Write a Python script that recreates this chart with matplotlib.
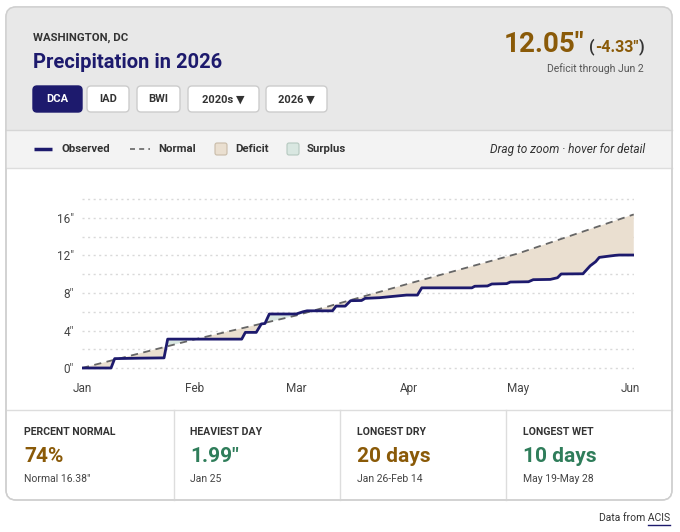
import numpy as np
import matplotlib
matplotlib.use("Agg")
import matplotlib.pyplot as plt
from matplotlib.patches import FancyBboxPatch, Rectangle

plt.rcParams['font.family'] = ['Roboto', 'DejaVu Sans']

# cumulative observed precipitation, day of year (Jan 1 = 0) -> inches
obs_days = [0, 8, 9, 16, 22.6, 23.6, 44, 45, 48, 49.4, 50.4, 51.6, 59, 60.9, 62, 69, 70, 72.5, 74,
            77, 78, 82, 89.4, 92.4, 93.6, 107.4, 108.2, 111.7, 112.9, 117, 118, 123, 124.3,
            129, 131, 132, 138, 140, 141.5, 142.5, 145.5, 147, 148, 152]
obs_values = [0, 0, 1.0, 1.05, 1.08, 3.08, 3.08, 3.8, 3.8, 4.7, 4.75, 5.76, 5.76, 6.0, 6.1,
              6.1, 6.6, 6.6, 7.18, 7.2, 7.43, 7.5, 7.78, 7.78, 8.55, 8.55, 8.72, 8.75, 8.96,
              9.0, 9.17, 9.2, 9.42, 9.45, 9.63, 10.03, 10.05, 10.9, 11.34, 11.8, 11.95,
              12.02, 12.05, 12.05]
# cumulative normal, read at the start of each month
normal_days = [0, 31, 59, 90, 120, 151, 152]
normal_values = [0, 3.05, 5.6, 9.0, 12.2, 16.25, 16.38]

month_days = [0, 31, 59, 90, 120, 151]
month_labels = ["Jan", "Feb", "Mar", "Apr", "May", "Jun"]
y_ticks = [0, 4, 8, 12, 16]

stat_labels = ["PERCENT NORMAL", "HEAVIEST DAY", "LONGEST DRY", "LONGEST WET"]
stat_values = ["74%", "1.99\u2033", "20 days", "10 days"]
stat_subs = ["Normal 16.38\u2033", "Jan 25", "Jan 26-Feb 14", "May 19-May 28"]

NAVY = "#1d1a6d"
BROWN = "#8a5a08"
GREEN = "#2f7d5a"
DEFICIT = "#eadfd0"
SURPLUS = "#d9e7e1"
TXT = "#333333"

W, H = 680, 532
fig = plt.figure(figsize=(W / 100, H / 100), dpi=100)
fig.patch.set_facecolor("white")

# background axes in pixel coordinates
bg = fig.add_axes([0, 0, 1, 1])
bg.set_xlim(0, W)
bg.set_ylim(H, 0)
bg.axis("off")

card = FancyBboxPatch((6, 7), 666, 493, boxstyle="round,pad=0,rounding_size=10",
                      facecolor="white", edgecolor="#cfcfcf", lw=1, zorder=1)
bg.add_patch(card)
header = Rectangle((0, 0), W, 130, facecolor="#e8e8e8", edgecolor="none", zorder=1.1)
bg.add_patch(header)
header.set_clip_path(card)
legrow = Rectangle((0, 130), W, 38, facecolor="#f3f3f3", edgecolor="none", zorder=1.1)
bg.add_patch(legrow)
legrow.set_clip_path(card)
bg.plot([6, 672], [130, 130], color="#d6d6d6", lw=1, zorder=1.2)
bg.plot([6, 672], [168, 168], color="#dddddd", lw=1, zorder=1.2)
bg.plot([6, 672], [410, 410], color="#dddddd", lw=1, zorder=1.2)
for sx in [174, 340, 506]:
    bg.plot([sx, sx], [410, 500], color="#dddddd", lw=1, zorder=1.2)
# redraw border on top
card2 = FancyBboxPatch((6, 7), 666, 493, boxstyle="round,pad=0,rounding_size=10",
                       facecolor="none", edgecolor="#cfcfcf", lw=1, zorder=1.3)
bg.add_patch(card2)

# header text
bg.text(33, 38, "WASHINGTON, DC", fontsize=8.2, fontweight="bold", color=TXT, va="center", zorder=2)
bg.text(33, 63, "Precipitation in 2026", fontsize=14.5, fontweight="bold", color=NAVY, va="center", zorder=2)

buttons = [("DCA", 33, 82), ("IAD", 87, 129), ("BWI", 137, 180),
           ("2020s \u25BC", 188, 259), ("2026 \u25BC", 266, 327)]
for i, (lab, x0, x1) in enumerate(buttons):
    active = i == 0
    bg.add_patch(FancyBboxPatch((x0, 86), x1 - x0, 26, boxstyle="round,pad=0,rounding_size=4",
                                facecolor=NAVY if active else "white",
                                edgecolor=NAVY if active else "#cccccc", lw=1, zorder=2))
    bg.text((x0 + x1) / 2, 99.5, lab, fontsize=8, fontweight="bold",
            color="white" if active else TXT, ha="center", va="center", zorder=3,
            family=['Roboto', 'DejaVu Sans'])

# big total, built right to left so pieces don't overlap
r = fig.canvas.get_renderer()
xr = 644
t = bg.text(xr, 47, ")", fontsize=11.5, fontweight="bold", color=TXT, ha="right", va="center", zorder=2)
xr -= t.get_window_extent(r).width
t = bg.text(xr, 47, "-4.33\u2033", fontsize=11.5, fontweight="bold", color=BROWN, ha="right", va="center", zorder=2)
xr -= t.get_window_extent(r).width
t = bg.text(xr, 47, "(", fontsize=11.5, fontweight="bold", color=TXT, ha="right", va="center", zorder=2)
xr -= t.get_window_extent(r).width + 5
bg.text(xr, 45, "12.05\u2033", fontsize=20, fontweight="bold", color=BROWN,
        ha="right", va="center", zorder=2)
bg.text(644, 69, "Deficit through Jun 2", fontsize=7.5, color="#555555", ha="right", va="center", zorder=2)

# legend row
ly = 149
bg.plot([34, 52], [ly, ly], color=NAVY, lw=2.5, solid_capstyle="butt", zorder=2)
bg.text(62, ly, "Observed", fontsize=8.2, fontweight="bold", color=TXT, va="center", zorder=2)
bg.plot([130, 150], [ly, ly], color="#666666", lw=1.2, dashes=(3, 2.5), zorder=2)
bg.text(158, ly, "Normal", fontsize=8.2, fontweight="bold", color=TXT, va="center", zorder=2)
bg.add_patch(FancyBboxPatch((215, 143), 12, 12, boxstyle="round,pad=0,rounding_size=2",
                            facecolor=DEFICIT, edgecolor="#c8bba8", lw=0.8, zorder=2))
bg.text(235, ly, "Deficit", fontsize=8.2, fontweight="bold", color=TXT, va="center", zorder=2)
bg.add_patch(FancyBboxPatch((287, 143), 12, 12, boxstyle="round,pad=0,rounding_size=2",
                            facecolor=SURPLUS, edgecolor="#b5c8bf", lw=0.8, zorder=2))
bg.text(307, ly, "Surplus", fontsize=8.2, fontweight="bold", color=TXT, va="center", zorder=2)
bg.text(645, ly, "Drag to zoom \u00b7 hover for detail", fontsize=8.6, style="italic",
        color=TXT, ha="right", va="center", zorder=2)

# stats row
for i in range(4):
    sx = 24 + i * 166.3
    col = BROWN if i in (0, 2) else GREEN
    bg.text(sx, 432, stat_labels[i], fontsize=7.6, fontweight="bold", color=TXT, va="center", zorder=2)
    bg.text(sx, 456, stat_values[i], fontsize=15, fontweight="bold", color=col, va="center", zorder=2)
    bg.text(sx, 479, stat_subs[i], fontsize=7.5, color="#444444", va="center", zorder=2)

bg.text(670, 518, "Data from ACIS", fontsize=7.5, color=TXT, ha="right", va="center", zorder=2)
bg.plot([648, 670], [525, 525], color=NAVY, lw=1, zorder=2)

# chart
x0px, x1px = 82, 82 + 152 * 3.63
ymin, ymax = -0.3, 18.4
ppi = 9.375
ybot = 368 + (0 - ymin) * ppi
ytop = 368 - ymax * ppi
ax = fig.add_axes([x0px / W, (H - ybot) / H, (x1px - x0px) / W, (ybot - ytop) / H])
ax.patch.set_alpha(0)
ax.set_xlim(0, 152)
ax.set_ylim(ymin, ymax)
for s in ax.spines.values():
    s.set_visible(False)

ax.set_yticks(y_ticks)
ax.set_yticklabels([f"{v}\u2033" for v in y_ticks])
ax.set_yticks([2, 6, 10, 14, 18], minor=True)
ax.set_xticks(month_days)
ax.set_xticklabels(month_labels)
ax.tick_params(which="both", length=0)
ax.tick_params(axis="y", pad=6, labelsize=8.5, labelcolor="#444444")
ax.tick_params(axis="x", pad=8, labelsize=8.5, labelcolor="#444444")
ax.grid(axis="y", which="both", color="#d9d9d9", lw=1, linestyle=(0, (1.5, 2.5)))
ax.grid(axis="x", visible=False)
ax.set_axisbelow(True)

# fill between observed and normal on a common set of days
xd = np.union1d(obs_days, normal_days)
yo = np.interp(xd, obs_days, obs_values)
yn = np.interp(xd, normal_days, normal_values)
ax.fill_between(xd, yo, yn, where=yo < yn, interpolate=True, color=DEFICIT, lw=0, zorder=1)
ax.fill_between(xd, yo, yn, where=yo >= yn, interpolate=True, color=SURPLUS, lw=0, zorder=1)
ax.plot(normal_days, normal_values, color="#666666", lw=1.3, dashes=(4, 3), zorder=3)
ax.plot(obs_days, obs_values, color=NAVY, lw=2, zorder=4, solid_joinstyle="round")

fig.savefig("out.png", dpi=100)
